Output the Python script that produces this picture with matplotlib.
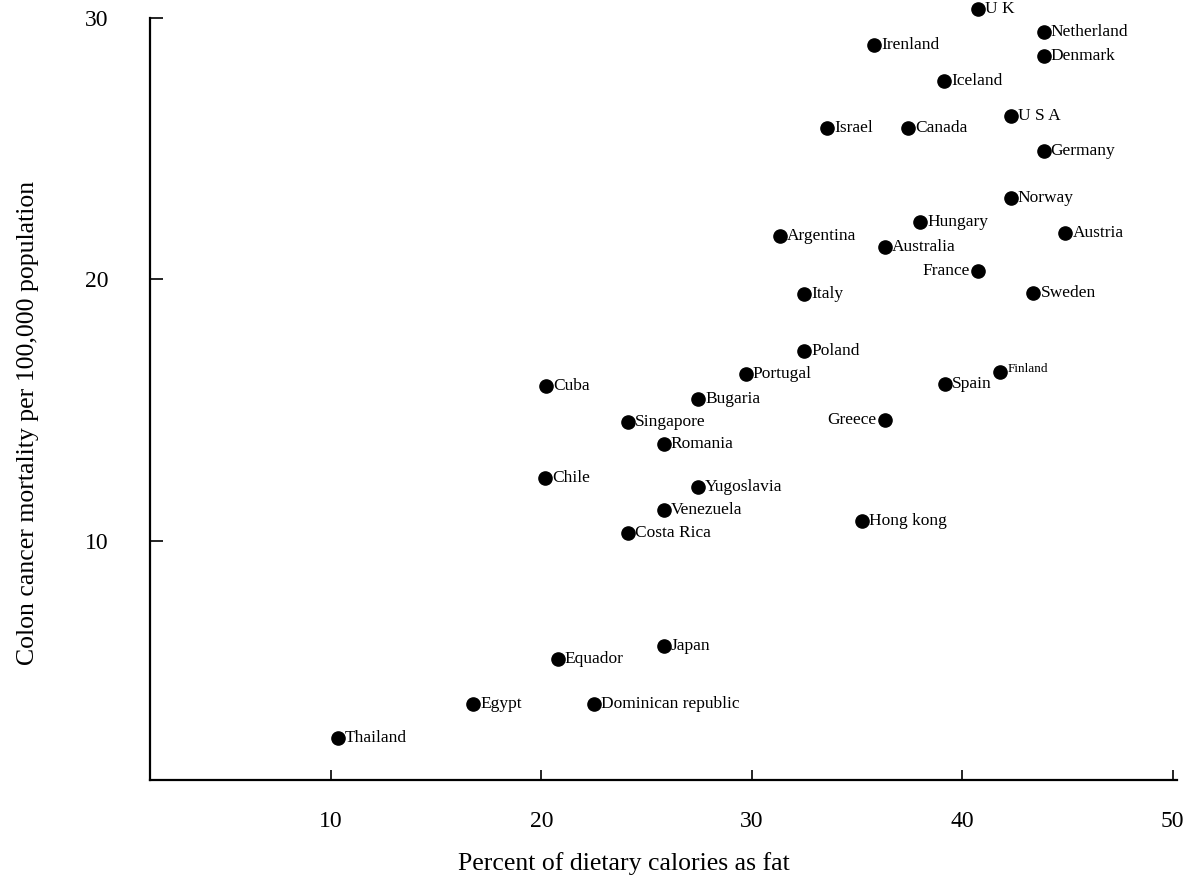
import matplotlib
matplotlib.use("Agg")
import matplotlib.pyplot as plt

countries = ["U K", "Netherland", "Denmark", "Irenland", "Iceland", "U S A", "Israel",
             "Canada", "Germany", "Norway", "Hungary", "Argentina", "Austria", "Australia",
             "France", "Italy", "Sweden", "Poland", "Portugal", "Finland", "Spain", "Cuba",
             "Bugaria", "Singapore", "Greece", "Romania", "Chile", "Yugoslavia", "Venezuela",
             "Hong kong", "Costa Rica", "Japan", "Equador", "Egypt", "Dominican republic",
             "Thailand"]
fat_pct = [40.75, 43.87, 43.87, 35.8, 39.13, 42.3, 33.57,
           37.43, 43.87, 42.3, 38.0, 31.35, 44.9, 36.32,
           40.75, 32.49, 43.38, 32.49, 29.71, 41.8, 39.16, 20.22,
           27.45, 24.13, 36.33, 25.8, 20.19, 27.45, 25.8,
           35.24, 24.13, 25.8, 20.78, 16.77, 22.5,
           10.32]
mortality = [30.36, 29.48, 28.54, 28.95, 27.6, 26.27, 25.78,
             25.78, 24.93, 23.1, 22.18, 21.67, 21.76, 21.24,
             20.33, 19.44, 19.49, 17.25, 16.38, 16.46, 15.98, 15.93,
             15.44, 14.56, 14.63, 13.72, 12.41, 12.04, 11.16,
             10.75, 10.29, 5.98, 5.47, 3.74, 3.74,
             2.45]
left_labels = {"France", "Greece"}
small_labels = {"Finland"}

x_ticks = [10, 20, 30, 40, 50]
y_ticks = [10, 20, 30]

plt.rcParams['font.family'] = ['Liberation Serif', 'DejaVu Serif']

W, H = 1200, 882
fig = plt.figure(figsize=(W / 100, H / 100), dpi=100)
ax = fig.add_axes([150 / W, (H - 780) / H, (1177 - 150) / W, (780 - 18) / H])

ax.plot(fat_pct, mortality, 'o', color='black', markersize=9.5, clip_on=False)

for name, xv, yv in zip(countries, fat_pct, mortality):
    if name in left_labels:
        ax.annotate(name, (xv, yv), xytext=(-6, 0), textcoords='offset points',
                    ha='right', va='center', fontsize=12.5, annotation_clip=False)
    elif name in small_labels:
        ax.annotate(name, (xv, yv), xytext=(5, 2), textcoords='offset points',
                    ha='left', va='center', fontsize=9.5, annotation_clip=False)
    else:
        ax.annotate(name, (xv, yv), xytext=(5, 0), textcoords='offset points',
                    ha='left', va='center', fontsize=12.5, annotation_clip=False)

ax.set_xlim(1.4, 50.2)
ax.set_ylim(0.85, 30.0)
ax.set_xticks(x_ticks)
ax.set_yticks(y_ticks)
ax.set_xticklabels([str(t) for t in x_ticks])
ax.set_yticklabels([str(t) for t in y_ticks])
ax.tick_params(axis='x', direction='in', length=7, width=1.2, pad=22, labelsize=17)
ax.tick_params(axis='y', direction='in', length=9, width=1.2, pad=30, labelsize=17)

for s in ['top', 'right']:
    ax.spines[s].set_visible(False)
for s in ['left', 'bottom']:
    ax.spines[s].set_linewidth(1.6)

fig.text(624 / W, 1 - 864 / H, "Percent of dietary calories as fat",
         ha='center', va='center', fontsize=18.5)
fig.text(28 / W, 1 - 423 / H, "Colon cancer mortality per 100,000 population",
         ha='center', va='center', rotation=90, fontsize=18.5)

fig.savefig("out.png", dpi=100)
